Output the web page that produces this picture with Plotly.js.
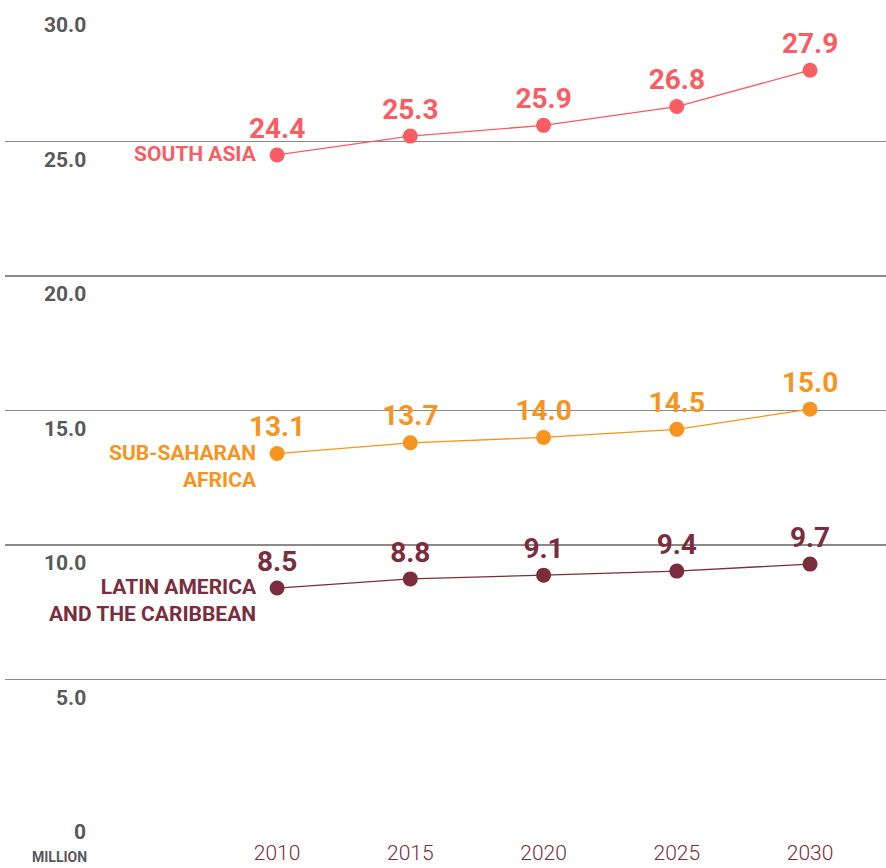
<!DOCTYPE html>
<html>
<head>
<meta charset="utf-8">
<script src="https://cdn.plot.ly/plotly-3.0.1.min.js"></script>
<style>html,body{margin:0;padding:0;background:#fff;}#chart{width:886px;height:868px;}</style>
</head>
<body>
<div id="chart"></div>
<script>
var years = [2010, 2015, 2020, 2025, 2030];
// printed values (labels)
var southAsiaLabels = [24.4, 25.3, 25.9, 26.8, 27.9];
var subSaharanLabels = [13.1, 13.7, 14.0, 14.5, 15.0];
var latinAmericaLabels = [8.5, 8.8, 9.1, 9.4, 9.7];
// plotted marker positions as drawn in the picture
var southAsia = [24.5, 25.2, 25.6, 26.3, 27.65];
var subSaharan = [13.4, 13.8, 14.0, 14.3, 15.05];
var latinAmerica = [8.4, 8.74, 8.88, 9.03, 9.29];
var seriesNames = ["SOUTH ASIA", "SUB-SAHARAN<br>AFRICA", "LATIN AMERICA<br>AND THE CARIBBEAN"];
var yTickVals = [0, 5, 10, 15, 20, 25, 30];
var yTickText = ["0", "5.0", "10.0", "15.0", "20.0", "25.0", "30.0"];
var xTickText = ["2010", "2015", "2020", "2025", "2030"];

var colors = ["#F95C62", "#F7941D", "#7B2D3E"];
var FONT = "Roboto, 'Open Sans', sans-serif";
var allSeries = [southAsia, subSaharan, latinAmerica];
var allLabels = [southAsiaLabels, subSaharanLabels, latinAmericaLabels];

var traces = allSeries.map(function (vals, i) {
  return {
    x: years, y: vals, type: 'scatter', mode: 'lines+markers+text',
    line: {color: colors[i], width: 1.3},
    marker: {color: colors[i], size: 15},
    text: allLabels[i].map(function (v) { return v.toFixed(1); }),
    textposition: 'top center',
    textfont: {family: FONT, size: 28, color: colors[i], weight: 700},
    hoverinfo: 'skip', cliponaxis: false
  };
});

var annotations = [];
yTickVals.forEach(function (v, i) {
  annotations.push({
    xref: 'paper', yref: 'y', x: 0.0942, y: v, xanchor: 'right', yanchor: 'middle',
    yshift: -18, text: yTickText[i], showarrow: false,
    font: {family: FONT, size: 21, color: '#58595B', weight: 700}
  });
});
annotations.push({
  xref: 'paper', yref: 'paper', x: 0.062, y: 0, xanchor: 'center', yanchor: 'middle',
  yshift: -43, text: 'MILLION', showarrow: false,
  font: {family: FONT, size: 14, color: '#58595B', weight: 700}
});
allSeries.forEach(function (vals, i) {
  annotations.push({
    xref: 'x', yref: 'y', x: years[0], y: vals[0], xanchor: 'right', yanchor: 'top',
    xshift: -18, yshift: 15, align: 'right', text: seriesNames[i], showarrow: false,
    font: {family: FONT, size: 21, color: colors[i], weight: 700}
  });
});

var layout = {
  width: 886, height: 868,
  margin: {l: 5, r: 0, t: 7, b: 54},
  paper_bgcolor: '#fff', plot_bgcolor: '#fff',
  showlegend: false,
  xaxis: {
    range: [1999.79, 2032.85], showgrid: false, zeroline: false, showline: false,
    tickvals: years, ticktext: xTickText, ticks: '',
    tickfont: {family: FONT, size: 21, color: '#7B2D3E', weight: 300},
    ticklabelstandoff: 24
  },
  yaxis: {
    range: [0, 30], tickvals: yTickVals, showticklabels: false, ticks: '',
    showgrid: true, gridcolor: '#8a8a8a', gridwidth: 1.2, zeroline: false, showline: false
  },
  annotations: annotations
};

Plotly.newPlot('chart', traces, layout, {displayModeBar: false, staticPlot: true});
</script>
</body>
</html>
